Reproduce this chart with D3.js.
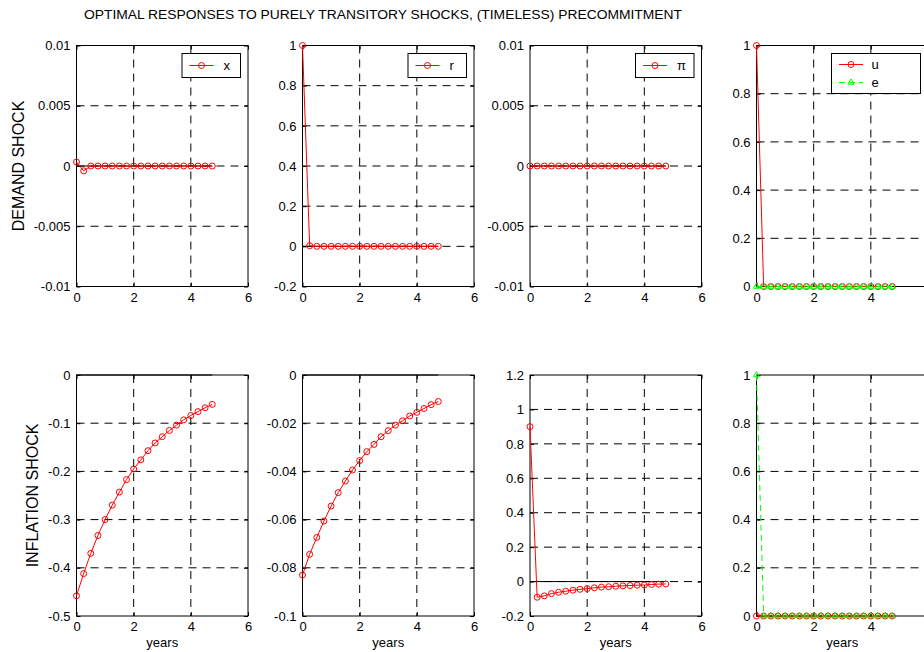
<!DOCTYPE html>
<html>
<head>
<meta charset="utf-8">
<title>Optimal responses to purely transitory shocks</title>
<script src="https://cdnjs.cloudflare.com/ajax/libs/d3/7.8.5/d3.min.js"></script>
<style>
    body { margin: 0; background: #fff; }
    text { font-family: "Liberation Sans", Arial, sans-serif; fill: #000; }
</style>
</head>
<body>
<div id="chart"></div>
<script>
// quarters (years)
var quarters = [0, 0.25, 0.5, 0.75, 1, 1.25, 1.5, 1.75, 2, 2.25, 2.5, 2.75, 3, 3.25, 3.5, 3.75, 4, 4.25, 4.5, 4.75];

// demand shock responses
var demandX  = [0.00033, -0.0004, 0, 0, 0, 0, 0, 0, 0, 0, 0, 0, 0, 0, 0, 0, 0, 0, 0, 0];
var demandR  = [1, 0.003, 0, 0, 0, 0, 0, 0, 0, 0, 0, 0, 0, 0, 0, 0, 0, 0, 0, 0];
var demandPi = [0, 0, 0, 0, 0, 0, 0, 0, 0, 0, 0, 0, 0, 0, 0, 0, 0, 0, 0, 0];
var demandU  = [1, 0, 0, 0, 0, 0, 0, 0, 0, 0, 0, 0, 0, 0, 0, 0, 0, 0, 0, 0];
var demandE  = [0, 0, 0, 0, 0, 0, 0, 0, 0, 0, 0, 0, 0, 0, 0, 0, 0, 0, 0, 0];

// inflation shock responses
var inflX  = [-0.458, -0.412, -0.370, -0.333, -0.300, -0.270, -0.243, -0.217, -0.195, -0.176,
              -0.157, -0.141, -0.128, -0.115, -0.104, -0.093, -0.084, -0.076, -0.068, -0.061];
var inflR  = [-0.0830, -0.0744, -0.0674, -0.0606, -0.0544, -0.0488, -0.0440, -0.0394, -0.0355, -0.0318,
              -0.0288, -0.0256, -0.0231, -0.0208, -0.0190, -0.0170, -0.0155, -0.0139, -0.0123, -0.0110];
var inflPi = [0.90, -0.091, -0.083, -0.070, -0.062, -0.056, -0.050, -0.045, -0.041, -0.036,
              -0.032, -0.030, -0.027, -0.025, -0.023, -0.021, -0.020, -0.017, -0.015, -0.014];
var inflU  = [0, 0, 0, 0, 0, 0, 0, 0, 0, 0, 0, 0, 0, 0, 0, 0, 0, 0, 0, 0];
var inflE  = [1, 0, 0, 0, 0, 0, 0, 0, 0, 0, 0, 0, 0, 0, 0, 0, 0, 0, 0, 0];

// axis ticks
var xTicks = [0, 2, 4, 6];
var ticksSmall = [-0.01, -0.005, 0, 0.005, 0.01];
var ticksR1    = [-0.2, 0, 0.2, 0.4, 0.6, 0.8, 1];
var ticksUnit  = [0, 0.2, 0.4, 0.6, 0.8, 1];
var ticksX2    = [-0.5, -0.4, -0.3, -0.2, -0.1, 0];
var ticksR2    = [-0.1, -0.08, -0.06, -0.04, -0.02, 0];
var ticksPi2   = [-0.2, 0, 0.2, 0.4, 0.6, 0.8, 1, 1.2];

var titleText = "OPTIMAL RESPONSES TO PURELY TRANSITORY SHOCKS, (TIMELESS) PRECOMMITMENT";
var rowLabels = ["DEMAND SHOCK", "INFLATION SHOCK"];

var width = 924,
    height = 652;

var colLeft = [76.5, 302.5, 530, 756.5],
    rowTop = [45.5, 375],
    pw = 171.5,
    ph = 241;

var RED = "#ff0000", GREEN = "#00ff00";

var redCircle = { name: null, color: RED, marker: "circle", dash: null };
function ser(name, values, color, marker, dash) {
    return { name: name, values: values, color: color, marker: marker, dash: dash };
}

var panels = [
    { row: 0, col: 0, ticks: ticksSmall, series: [ser("x", demandX, RED, "circle", null)] },
    { row: 0, col: 1, ticks: ticksR1,    series: [ser("r", demandR, RED, "circle", null)] },
    { row: 0, col: 2, ticks: ticksSmall, series: [ser("\u03c0", demandPi, RED, "circle", null)] },
    { row: 0, col: 3, ticks: ticksUnit,  series: [ser("u", demandU, RED, "circle", null), ser("e", demandE, GREEN, "triangle", "6,4")] },
    { row: 1, col: 0, ticks: ticksX2,    series: [ser("x", inflX, RED, "circle", null)] },
    { row: 1, col: 1, ticks: ticksR2,    series: [ser("r", inflR, RED, "circle", null)] },
    { row: 1, col: 2, ticks: ticksPi2,   series: [ser("\u03c0", inflPi, RED, "circle", null)] },
    { row: 1, col: 3, ticks: ticksUnit,  series: [ser("u", inflU, RED, "circle", null), ser("e", inflE, GREEN, "triangle", "6,4")] }
];

var svg = d3.select("#chart").append("svg")
    .attr("width", width)
    .attr("height", height);

svg.append("text")
    .attr("x", 84)
    .attr("y", 19)
    .attr("font-size", 12)
    .attr("textLength", 598)
    .attr("lengthAdjust", "spacingAndGlyphs")
    .text(titleText);

// row labels
svg.append("text")
    .attr("transform", "translate(24," + (rowTop[0] + ph / 2) + ") rotate(-90)")
    .attr("text-anchor", "middle")
    .attr("font-size", 16)
    .text(rowLabels[0]);
svg.append("text")
    .attr("transform", "translate(38," + (rowTop[1] + ph / 2) + ") rotate(-90)")
    .attr("text-anchor", "middle")
    .attr("font-size", 16)
    .text(rowLabels[1]);

function fmt(v) { return String(+v.toFixed(4)); }

var fmtAxis = function(v) { return fmt(v); };

panels.forEach(function(p) {
    var g = svg.append("g")
        .attr("transform", "translate(" + colLeft[p.col] + "," + rowTop[p.row] + ")");

    var x = d3.scaleLinear().domain([0, 6]).range([0, pw]);
    var y = d3.scaleLinear().domain(d3.extent(p.ticks)).range([ph, 0]);

    // white background
    g.append("rect").attr("width", pw).attr("height", ph).attr("fill", "#fff");

    // dashed grid
    g.selectAll(".gx").data(xTicks.slice(1, -1)).enter().append("line")
        .attr("x1", function(d) { return x(d); }).attr("x2", function(d) { return x(d); })
        .attr("y1", 0).attr("y2", ph)
        .attr("stroke", "#000").attr("stroke-width", 1).attr("stroke-dasharray", "8,6");
    g.selectAll(".gy").data(p.ticks.slice(1, -1)).enter().append("line")
        .attr("x1", 0).attr("x2", pw)
        .attr("y1", function(d) { return y(d); }).attr("y2", function(d) { return y(d); })
        .attr("stroke", "#000").attr("stroke-width", 1).attr("stroke-dasharray", "8,6");

    // axes with inward ticks
    var yAxis = g.append("g")
        .call(d3.axisLeft(y).tickValues(p.ticks).tickSize(-4).tickPadding(6).tickFormat(fmtAxis));
    var xAxis = g.append("g")
        .attr("transform", "translate(0," + ph + ")")
        .call(d3.axisBottom(x).tickValues(xTicks).tickSize(-4).tickPadding(3).tickFormat(fmtAxis));
    g.append("g").attr("transform", "translate(" + pw + ",0)")
        .call(d3.axisRight(y).tickValues(p.ticks).tickSize(-4).tickFormat(""));
    g.append("g")
        .call(d3.axisTop(x).tickValues(xTicks).tickSize(-4).tickFormat(""));
    g.selectAll(".domain").remove();
    g.selectAll(".tick line").attr("stroke", "#000");
    [yAxis, xAxis].forEach(function(a) {
        a.selectAll("text").attr("font-size", 13)
            .attr("font-family", "'Liberation Sans', Arial, sans-serif").attr("fill", "#000");
    });
    xAxis.selectAll("text").attr("dy", "0.95em");

    // box
    g.append("rect").attr("width", pw).attr("height", ph)
        .attr("fill", "none").attr("stroke", "#000").attr("stroke-width", 1);

    // zero line over the simulated horizon
    g.append("line")
        .attr("x1", x(quarters[0])).attr("x2", x(quarters[quarters.length - 1]))
        .attr("y1", y(0)).attr("y2", y(0))
        .attr("stroke", "#000").attr("stroke-width", 1);

    var line = d3.line()
        .x(function(d, i) { return x(quarters[i]); })
        .y(function(d) { return y(d); });

    p.series.forEach(function(s) {
        g.append("path")
            .datum(s.values)
            .attr("d", line)
            .attr("fill", "none")
            .attr("stroke", s.color)
            .attr("stroke-width", 1)
            .attr("stroke-dasharray", s.dash);
        drawMarkers(g, s, s.values.map(function(v, i) { return [x(quarters[i]), y(v)]; }));
    });

    if (p.row === 1) {
        g.append("text")
            .attr("x", pw / 2)
            .attr("y", 647 - rowTop[1])
            .attr("text-anchor", "middle")
            .attr("font-size", 13)
            .text("years");
    }

    // legend (top row only)
    if (p.row === 0) {
        var n = p.series.length,
            lw = n > 1 ? 89 : 58.5,
            lh = n > 1 ? 40 : 24,
            lx = pw - 7.5 - lw,
            ly = 8;
        var lg = g.append("g").attr("transform", "translate(" + lx + "," + ly + ")");
        lg.append("rect").attr("width", lw).attr("height", lh)
            .attr("fill", "#fff").attr("stroke", "#000").attr("stroke-width", 1);
        p.series.forEach(function(s, i) {
            var cy = n > 1 ? 11 + i * 18 : 12;
            lg.append("line")
                .attr("x1", 7.5).attr("x2", 31.5)
                .attr("y1", cy).attr("y2", cy)
                .attr("stroke", s.color).attr("stroke-width", 1)
                .attr("stroke-dasharray", s.dash);
            drawMarkers(lg, s, [[19.5, cy]]);
            lg.append("text")
                .attr("x", n > 1 ? 40 : 41.5)
                .attr("y", cy)
                .attr("dy", "0.35em")
                .attr("font-size", 13)
                .text(s.name);
        });
    }
});

function drawMarkers(g, s, pts) {
    if (s.marker === "circle") {
        g.selectAll(null).data(pts).enter().append("circle")
            .attr("cx", function(d) { return d[0]; })
            .attr("cy", function(d) { return d[1]; })
            .attr("r", 3)
            .attr("fill", "none")
            .attr("stroke", s.color)
            .attr("stroke-width", 1);
    } else {
        var tri = d3.symbol().type(d3.symbolTriangle).size(16);
        g.selectAll(null).data(pts).enter().append("path")
            .attr("d", tri)
            .attr("transform", function(d) { return "translate(" + d[0] + "," + d[1] + ")"; })
            .attr("fill", "none")
            .attr("stroke", s.color)
            .attr("stroke-width", 1);
    }
}
</script>
</body>
</html>
